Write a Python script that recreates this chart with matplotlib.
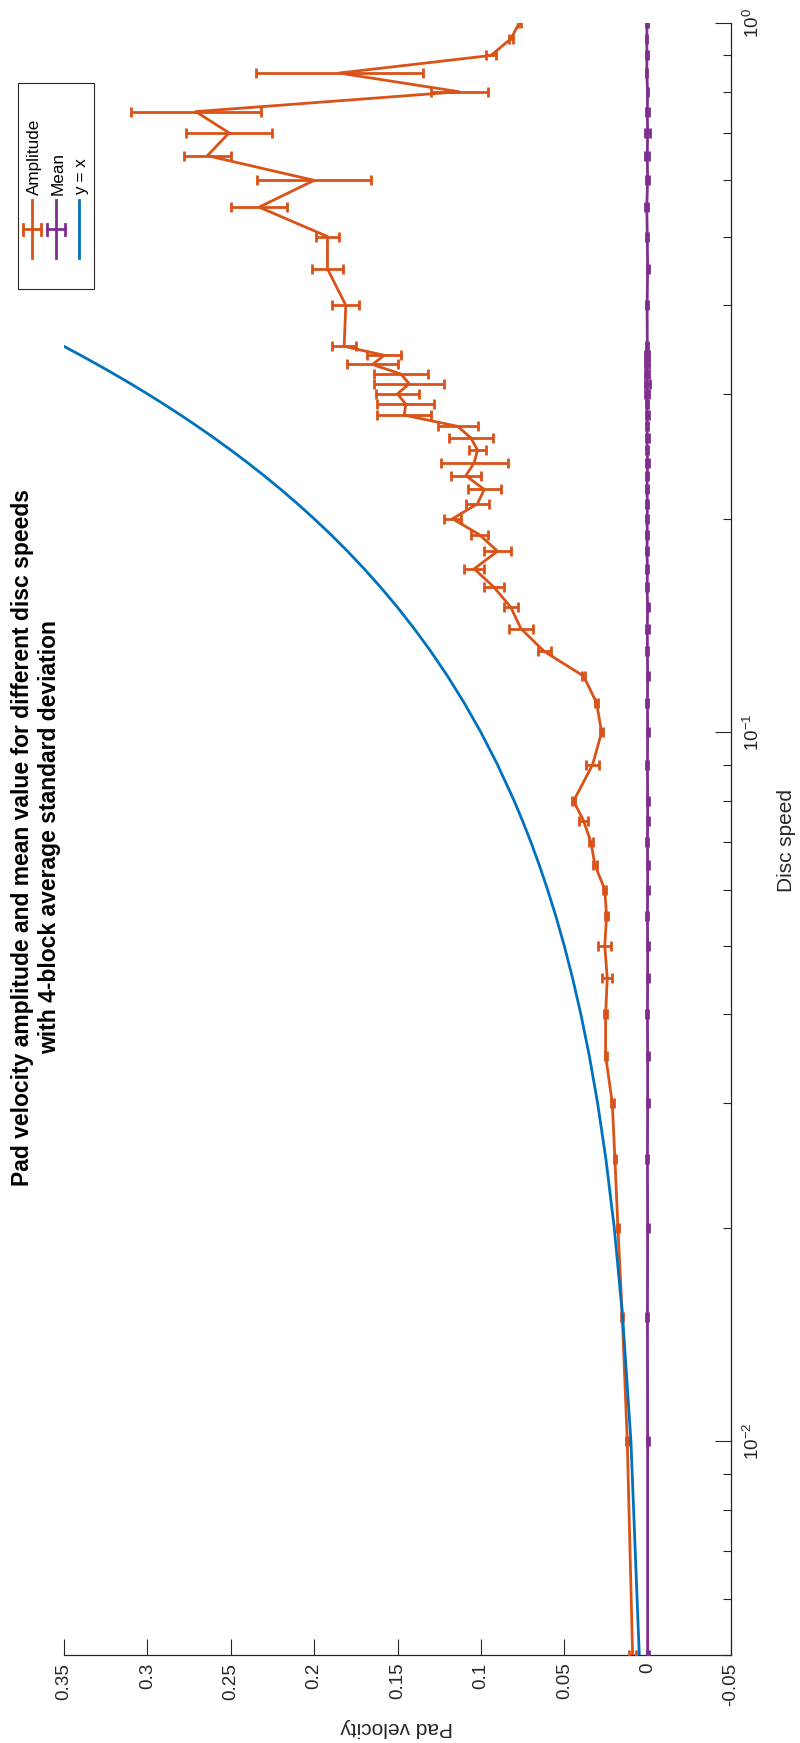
import numpy as np
import matplotlib
matplotlib.use("Agg")
import matplotlib.pyplot as plt
from matplotlib.lines import Line2D
from matplotlib.patches import Rectangle
from matplotlib.ticker import FixedLocator, LogLocator, NullFormatter

plt.rcParams['font.family'] = ['Liberation Sans', 'DejaVu Sans']
plt.rcParams['axes.unicode_minus'] = False

# ---- data -------------------------------------------------------------
disc_speed = [0.005, 0.010, 0.015, 0.020, 0.025, 0.030, 0.035, 0.040,
              0.045, 0.050, 0.055, 0.060, 0.065, 0.070, 0.075, 0.080,
              0.09, 0.10, 0.11,
              0.12, 0.13, 0.14, 0.15, 0.16, 0.17, 0.18, 0.19, 0.20, 0.21,
              0.22, 0.23, 0.24, 0.25, 0.26, 0.27, 0.28, 0.29, 0.30, 0.31,
              0.32, 0.33, 0.34, 0.35,
              0.40, 0.45, 0.50, 0.55, 0.60, 0.65, 0.70, 0.75, 0.80, 0.85,
              0.90, 0.95, 1.00]

amplitude = [0.0090, 0.0122, 0.0152, 0.0178, 0.0196, 0.0212, 0.0252, 0.0252,
             0.0242, 0.0257, 0.0246, 0.0257, 0.0316, 0.0340, 0.0384, 0.0444,
             0.0330, 0.0276, 0.0306,
             0.0384, 0.062, 0.076, 0.082, 0.092, 0.104, 0.090, 0.101, 0.117, 0.102,
             0.098, 0.109, 0.104, 0.102, 0.106, 0.114, 0.146, 0.145, 0.150, 0.143,
             0.148, 0.165, 0.158, 0.182,
             0.181, 0.192, 0.192, 0.233, 0.200, 0.264, 0.251, 0.271, 0.113, 0.185,
             0.094, 0.082, 0.077]

amplitude_std = [0.0023, 0.0008, 0.0006, 0.0006, 0.0006, 0.0008, 0.0006, 0.0008,
                 0.0030, 0.0040, 0.0008, 0.0008, 0.0010, 0.0010, 0.0028, 0.0010,
                 0.0040, 0.0010, 0.0010,
                 0.0010, 0.004, 0.007, 0.004, 0.006, 0.006, 0.008, 0.005, 0.005, 0.007,
                 0.010, 0.009, 0.020, 0.005, 0.013, 0.012, 0.016, 0.017, 0.013, 0.021,
                 0.016, 0.015, 0.010, 0.007,
                 0.008, 0.0095, 0.007, 0.017, 0.034, 0.014, 0.026, 0.039, 0.017, 0.050,
                 0.003, 0.001, 0.001]

mean_value = [0.0000, 0.0000, 0.0001, 0.0000, 0.0001, 0.0000, 0.0000, 0.0001,
              0.0000, 0.0000, 0.0001, 0.0000, 0.0000, 0.0001, 0.0000, 0.0000,
              0.0001, 0.0000, 0.0001,
              0.0000, 0.0001, 0.0002, 0.0000, 0.0003, 0.0001, 0.0004, 0.0002, 0.0003, 0.0001,
              0.0004, 0.0002, 0.0000, 0.0003, 0.0002, 0.0003, 0.0002, 0.0004, 0.0002, 0.0000,
              0.0003, 0.0005, 0.0003, 0.0002,
              0.0003, 0.0000, 0.0002, 0.0005, 0.0000, 0.0002, 0.0000, 0.0002, 0.0000, 0.0005,
              0.0004, 0.0005, 0.0003]

mean_std = [0.0006, 0.0006, 0.0006, 0.0006, 0.0006, 0.0006, 0.0006, 0.0006,
            0.0006, 0.0006, 0.0006, 0.0006, 0.0006, 0.0006, 0.0006, 0.0006,
            0.0006, 0.0006, 0.0006,
            0.0006, 0.0006, 0.0008, 0.0006, 0.0008, 0.0006, 0.0008, 0.0006, 0.0008, 0.0006,
            0.0008, 0.0006, 0.0008, 0.0006, 0.0008, 0.0006, 0.0008, 0.0008, 0.0012, 0.0014,
            0.0010, 0.0012, 0.0010, 0.0006,
            0.0006, 0.0006, 0.0006, 0.0008, 0.0008, 0.0012, 0.0014, 0.0010, 0.0004, 0.0004,
            0.0004, 0.0004, 0.0004]

pad_ticks = [-0.05, 0.0, 0.05, 0.10, 0.15, 0.20, 0.25, 0.30, 0.35]
pad_tick_labels = ['-0.05', '0', '0.05', '0.1', '0.15', '0.2', '0.25', '0.3', '0.35']
speed_ticks = [0.01, 0.1, 1.0]
speed_tick_labels = [r'$\mathregular{10^{-2}}$', r'$\mathregular{10^{-1}}$',
                     r'$\mathregular{10^{0}}$']

legend_labels = ['Amplitude', 'Mean', 'y = x']

# ---- styling ------------------------------------------------------------
ORANGE = '#D95319'
PURPLE = '#7E2F8E'
BLUE = '#0072BD'
AXCOL = '#262626'

W, H = 800, 1743
fig = plt.figure(figsize=(W / 100, H / 100), dpi=100)
fig.patch.set_facecolor('white')


def fx(px):
    return px / W


def fy(py):
    return 1 - py / H


# Landscape plot turned on its side: pad velocity runs along the
# horizontal axis (reversed), disc speed along the vertical log axis.
ax = fig.add_axes([fx(64), fy(1655), fx(731) - fx(64), fy(23) - fy(1655)])
ax.set_yscale('log')

ax.errorbar(amplitude, disc_speed, xerr=amplitude_std, color=ORANGE,
            lw=2, elinewidth=2, capsize=3.8, capthick=2, zorder=3)
ax.errorbar(mean_value, disc_speed, xerr=mean_std, color=PURPLE,
            lw=2, elinewidth=2, capsize=3.8, capthick=2, zorder=4)
ax.plot(disc_speed, disc_speed, color=BLUE, lw=2, zorder=5)

ax.set_xlim(0.35, -0.05)
ax.set_ylim(0.005, 1.0)

for side in ('top', 'left'):
    ax.spines[side].set_visible(False)
for side in ('bottom', 'right'):
    ax.spines[side].set_color(AXCOL)
    ax.spines[side].set_linewidth(0.9)

ax.xaxis.set_major_locator(FixedLocator(pad_ticks))
ax.set_xticklabels(pad_tick_labels)
ax.tick_params(axis='x', which='major', direction='in', length=11.5,
               width=0.8, color=AXCOL, labelcolor=AXCOL, labelsize=13.6,
               labelrotation=90, pad=5.5, top=False, bottom=True)

ax.yaxis.tick_right()
ax.yaxis.set_major_locator(FixedLocator(speed_ticks))
ax.set_yticklabels(speed_tick_labels)
ax.yaxis.set_minor_locator(LogLocator(base=10, subs=np.arange(2, 10)))
ax.yaxis.set_minor_formatter(NullFormatter())
ax.tick_params(axis='y', which='major', direction='in', length=11.5,
               width=0.8, color=AXCOL, labelcolor=AXCOL, labelsize=13.6,
               labelrotation=90, pad=8.5, left=False, right=True)
ax.tick_params(axis='y', which='minor', direction='in', length=5.8,
               width=0.8, color=AXCOL, left=False, right=True)
for lbl in ax.get_yticklabels():
    lbl.set_verticalalignment('center')
    lbl.set_horizontalalignment('left')

# axis labels
fig.text(fx(787), fy(840), 'Disc speed', rotation=90, ha='center',
         va='center', fontsize=15, color=AXCOL)
fig.text(fx(397), fy(1727), 'Pad velocity', rotation=180, ha='center',
         va='center', fontsize=15, color=AXCOL)

# title, centred on the plot area
fig.text(fx(36), fy(837),
         'Pad velocity amplitude and mean value for different disc speeds\n'
         'with 4-block average standard deviation',
         rotation=90, ha='center', va='center', fontsize=16.5,
         fontweight='bold', multialignment='center', color='black')

# legend box, drawn by hand so its entries can follow the rotated layout
fig.patches.append(Rectangle((fx(18), fy(289)), fx(94) - fx(18),
                             fy(83) - fy(289), transform=fig.transFigure,
                             facecolor='white', edgecolor=AXCOL, lw=0.8,
                             zorder=10))
entries = [(32, ORANGE, True), (56, PURPLE, True), (79, BLUE, False)]
for (cx, col, with_err), label in zip(entries, legend_labels):
    fig.add_artist(Line2D([fx(cx), fx(cx)], [fy(200), fy(258)],
                          transform=fig.transFigure, color=col, lw=2,
                          zorder=11))
    if with_err:
        fig.add_artist(Line2D([fx(cx - 9), fx(cx + 9)], [fy(229), fy(229)],
                              transform=fig.transFigure, color=col, lw=2,
                              zorder=11))
        for ex in (cx - 9, cx + 9):
            fig.add_artist(Line2D([fx(ex), fx(ex)], [fy(224), fy(235)],
                                  transform=fig.transFigure, color=col,
                                  lw=2, zorder=11))
    fig.text(fx(cx + 2.5), fy(195), label, rotation=90, ha='center',
             va='bottom', fontsize=12.3, color='black', zorder=12)

fig.savefig('out.png', dpi=100, facecolor='white')
